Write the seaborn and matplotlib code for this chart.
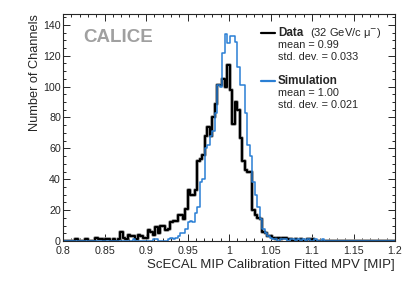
import numpy as np
import pandas as pd
import seaborn as sns
from matplotlib import pyplot as plt
from matplotlib.ticker import MultipleLocator

# bin edges: 0.8 .. 1.202, width 0.003
edges = 0.8 + 0.003 * np.arange(135)
centers = 0.5 * (edges[:-1] + edges[1:])

data_counts = [0, 0, 0, 0, 0, 1, 0, 0, 0, 1,
               0, 0, 0, 2, 1, 1, 0, 1, 1, 0,
               1, 0, 1, 6, 2, 1, 4, 3, 3, 1,
               4, 3, 2, 2, 7, 6, 4, 9, 5, 10,
               10, 7, 8, 12, 13, 13, 17, 17, 14, 21,
               33, 30, 30, 33, 52, 53, 56, 68, 74, 68,
               80, 89, 101, 101, 105, 100, 114, 98, 76, 90,
               85, 67, 52, 46, 45, 45, 20, 17, 15, 14,
               6, 5, 3, 3, 2, 1, 2, 1, 2, 2,
               1, 1, 0, 1, 0, 1, 0, 0, 1, 0,
               1, 0, 0, 0, 0, 0, 0, 0, 0, 0,
               0, 0, 0, 0, 0, 0, 0, 0, 0, 0,
               0, 0, 0, 0, 0, 0, 0, 0, 0, 0,
               0, 0, 0, 0]

sim_counts = [0, 0, 0, 0, 0, 0, 0, 0, 0, 0,
              0, 0, 0, 0, 0, 0, 0, 0, 0, 0,
              0, 0, 0, 0, 0, 0, 0, 0, 1, 0,
              0, 0, 0, 0, 0, 0, 1, 1, 0, 0,
              0, 0, 1, 2, 1, 2, 3, 5, 5, 8,
              12, 13, 12, 18, 22, 38, 40, 60, 62, 68,
              71, 83, 101, 100, 122, 134, 128, 133, 133, 129,
              113, 101, 101, 83, 62, 55, 38, 30, 22, 14,
              8, 5, 3, 2, 1, 1, 0, 1, 1, 1,
              0, 1, 1, 0, 1, 0, 1, 0, 1, 0,
              0, 1, 0, 0, 1, 0, 0, 0, 0, 0,
              0, 0, 0, 0, 0, 0, 0, 0, 0, 0,
              0, 0, 0, 0, 0, 0, 0, 0, 0, 0,
              0, 0, 0, 0]

xtick_labels = ["0.8", "0.85", "0.9", "0.95", "1", "1.05", "1.1", "1.15", "1.2"]
blue = "#2a7fd4"

df = pd.DataFrame({"mpv": centers, "data": data_counts, "sim": sim_counts})

sns.set_style("ticks")
plt.rcParams['font.family'] = ['Liberation Sans', 'DejaVu Sans']

fig = plt.figure(figsize=(4.15, 2.81), dpi=100)
ax = fig.add_axes([63 / 415, 1 - 241 / 281, 332 / 415, 227 / 281])

# data: black line with a grey halo
sns.histplot(data=df, x="mpv", weights="data", bins=list(edges), element="step",
             fill=False, color="#9a9a9a", linewidth=2.6, ax=ax)
sns.histplot(data=df, x="mpv", weights="data", bins=list(edges), element="step",
             fill=False, color="black", linewidth=1.5, ax=ax)
sns.histplot(data=df, x="mpv", weights="sim", bins=list(edges), element="step",
             fill=False, color=blue, linewidth=1.1, ax=ax)

ax.set_xlim(0.8, 1.2)
ax.set_ylim(0, 147)
ax.xaxis.set_minor_locator(MultipleLocator(0.01))
ax.yaxis.set_major_locator(MultipleLocator(20))
ax.yaxis.set_minor_locator(MultipleLocator(5))
ax.tick_params(which="both", direction="in", top=True, right=True,
               labelsize=7.7, width=0.7)
ax.tick_params(which="major", length=5)
ax.tick_params(which="minor", length=2.5)
ax.tick_params(axis="x", pad=3.5)
ax.tick_params(axis="y", pad=1.5)
ax.set_xticks(np.linspace(0.8, 1.2, len(xtick_labels)))
ax.set_xticklabels(xtick_labels)
for s in ax.spines.values():
    s.set_linewidth(0.8)

ax.set_xlabel("ScECAL MIP Calibration Fitted MPV [MIP]", fontsize=9.5,
              loc="right", labelpad=2)
ax.set_ylabel("Number of Channels", fontsize=9.2, loc="top", labelpad=2)

ax.text(0.060, 0.877, "CALICE", transform=ax.transAxes, fontsize=13.5,
        fontweight="bold", color="#a0a0a0", va="baseline", ha="left")

# legend drawn by hand
ax.plot([0.596, 0.639], [0.916, 0.916], transform=ax.transAxes, color="black", lw=1.6)
ax.text(0.6476, 0.916, "Data", transform=ax.transAxes, fontsize=8.4,
        fontweight="bold", va="center")
ax.text(0.743, 0.916, "(32 GeV/c \u03bc$^{-}$)", transform=ax.transAxes,
        fontsize=8, va="center")
ax.text(0.6476, 0.863, "mean = 0.99", transform=ax.transAxes, fontsize=7.8, va="center")
ax.text(0.6476, 0.811, "std. dev. = 0.033", transform=ax.transAxes, fontsize=7.8, va="center")

ax.plot([0.596, 0.639], [0.705, 0.705], transform=ax.transAxes, color=blue, lw=1.6)
ax.text(0.6476, 0.705, "Simulation", transform=ax.transAxes, fontsize=8.4,
        fontweight="bold", va="center")
ax.text(0.6476, 0.652, "mean = 1.00", transform=ax.transAxes, fontsize=7.8, va="center")
ax.text(0.6476, 0.599, "std. dev. = 0.021", transform=ax.transAxes, fontsize=7.8, va="center")

fig.savefig("out.png", dpi=100)
